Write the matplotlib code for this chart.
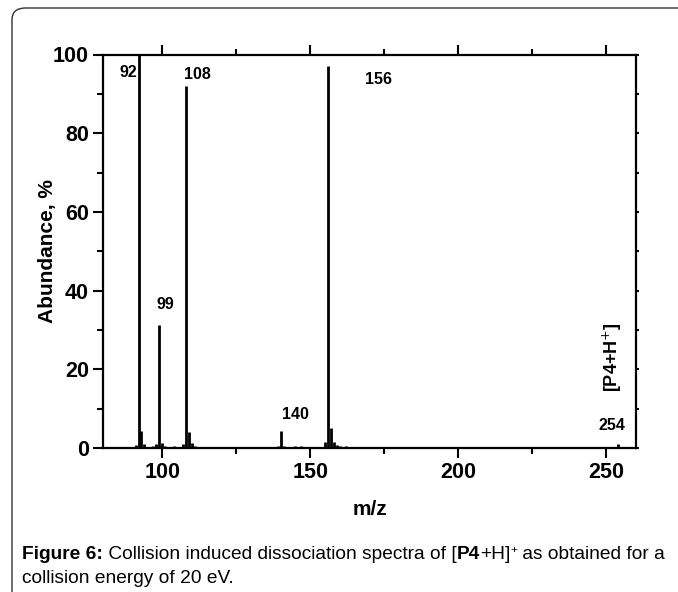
import matplotlib.pyplot as plt
from matplotlib.patches import FancyBboxPatch
from matplotlib.ticker import MultipleLocator

plt.rcParams['font.family'] = ['Liberation Sans', 'DejaVu Sans']

# stick spectrum, m/z vs abundance (%)
mz = [91, 92, 93, 94, 97, 98, 99, 100, 101, 104, 107, 108, 109, 110, 111,
      113, 121, 130, 139, 140, 141, 145, 147, 155, 156, 157, 158, 159, 160,
      162, 165, 170, 198, 199, 254]
abundance = [0.8, 100, 4.2, 1.0, 0.5, 1.0, 31.3, 1.2, 0.6, 0.4, 1.0, 92, 4.0,
             1.2, 0.5, 0.3, 0.3, 0.3, 0.4, 4.3, 0.5, 0.4, 0.5, 1.5, 97, 5.0,
             1.5, 0.8, 0.6, 0.4, 0.3, 0.3, 0.3, 0.3, 0.9]

peak_labels = ['92', '99', '108', '140', '156', '254']
label_x = [88.5, 101, 112, 145, 173, 252]
label_y = [95.3, 36.5, 95, 8.5, 93.6, 5.8]

fig = plt.figure(figsize=(6.78, 5.92), dpi=100)

# rounded frame around the figure
frame = FancyBboxPatch((12 / 678, -20 / 592), 700 / 678, 604 / 592,
                       boxstyle='round,pad=0,rounding_size=0.02',
                       transform=fig.transFigure, fill=False,
                       edgecolor='#333333', linewidth=1.0)
fig.patches.append(frame)

ax = fig.add_axes([103 / 678, 144 / 592, 533 / 678, 393.5 / 592])
ax.vlines(mz, 0, abundance, colors='black', linewidth=2)
ax.set_xlim(80, 260)
ax.set_ylim(0, 100)

for s in ax.spines.values():
    s.set_linewidth(1.6)

ax.xaxis.set_major_locator(MultipleLocator(50))
ax.xaxis.set_minor_locator(MultipleLocator(25))
ax.yaxis.set_major_locator(MultipleLocator(20))
ax.yaxis.set_minor_locator(MultipleLocator(10))
ax.tick_params(which='both', direction='out', top=True, width=1.5)
ax.tick_params(which='major', length=7, labelsize=15.5, pad=3)
ax.tick_params(which='minor', length=4)
ax.tick_params(axis='y', which='both', right=True)
for lab in ax.get_xticklabels() + ax.get_yticklabels():
    lab.set_fontweight('bold')
# right-hand ticks are only tiny nubs in the original
for tk in ax.yaxis.get_major_ticks() + ax.yaxis.get_minor_ticks():
    tk.tick2line.set_markersize(2)

ax.set_xlabel('m/z', fontsize=15, fontweight='bold', labelpad=12)
ax.set_ylabel('Abundance, %', fontsize=15, fontweight='bold', labelpad=-3)

for t, x, y in zip(peak_labels, label_x, label_y):
    ax.text(x, y, t, ha='center', va='center', fontsize=11.5, fontweight='bold')

ax.text(252, 23, '[P4+H$^{+}$]', rotation=90, ha='center', va='center',
        fontsize=13, fontweight='bold')

# caption with mixed weights, pieces chained one after another
fs = 13.8
prev = fig.text(22 / 678, 1 - 563 / 592, 'Figure 6:', fontsize=fs,
                fontweight='bold', ha='left', va='bottom')
base = prev
parts = [(' Collision induced dissociation spectra of [', 'normal', False),
         ('P4', 'bold', False), ('+H]', 'normal', False), ('+', 'normal', True),
         (' as obtained for a', 'normal', False)]
for txt, w, sup in parts:
    if sup:
        prev = ax.annotate(txt, xy=(1, 0.45), xycoords=base,
                           fontsize=fs * 0.6, ha='left', va='bottom',
                           annotation_clip=False)
    else:
        prev = ax.annotate(txt, xy=(1, 0), xycoords=(prev, base),
                           fontsize=fs, fontweight=w, ha='left', va='bottom',
                           annotation_clip=False)
        base = prev

fig.text(22 / 678, 1 - 587 / 592, 'collision energy of 20 eV.', fontsize=fs,
         ha='left', va='bottom')

plt.savefig('out.png', dpi=100)
